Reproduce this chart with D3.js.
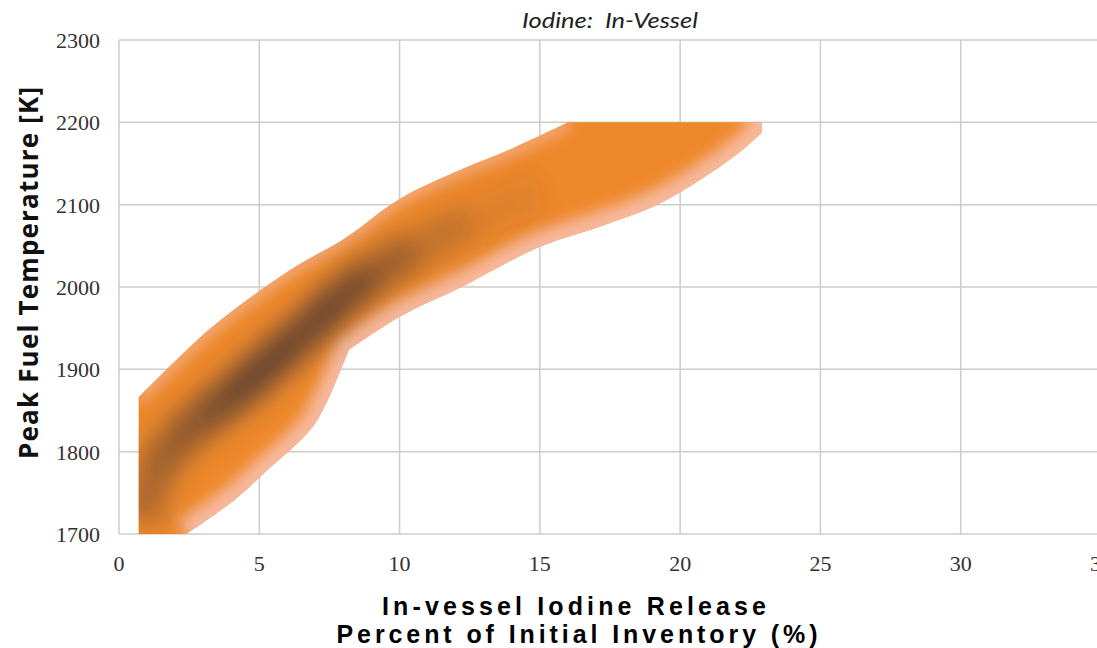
<!DOCTYPE html>
<html><head><meta charset="utf-8">
<script src="https://cdn.jsdelivr.net/npm/d3@7"></script>
<style>html,body{margin:0;padding:0;background:#fff;overflow:hidden}</style>
</head><body>
<svg id="c" width="1097" height="648"></svg>
<script>
// ---- data ----
const xTicks = [0, 5, 10, 15, 20, 25, 30, 35];
const yTicks = [1700, 1800, 1900, 2000, 2100, 2200, 2300];
// outer boundary of the density band
const upperX = [0.7, 3.2, 5.0, 6.5, 8.0, 10.0, 12.0, 14.0, 16.0];
const upperY = [1866, 1948, 1995, 2029, 2058, 2107, 2140, 2168, 2200];
const topRightX = 22.9;
const lowerX = [22.9, 21.9, 19.3, 17.1, 15.0, 12.2, 10.0, 8.2];
const lowerY = [2187, 2158, 2102, 2073, 2049, 2000, 1964, 1924];
const lowerX2 = [7.6, 6.9, 5.3, 4.1, 2.4];
const lowerY2 = [1875, 1830, 1778, 1741, 1700];
const leftX = 0.7;
// ridge of highest density
const ridgeX = [0.8, 1.2, 2.0, 3.0, 4.0, 5.0, 6.0, 7.0, 8.0, 9.0, 10.5, 12.5, 15.0];
const ridgeY = [1715, 1775, 1812, 1842, 1867, 1897, 1927, 1957, 1990, 2015, 2045, 2080, 2115];
const ridgeD = [0.35, 0.55, 0.6, 0.75, 0.9, 0.95, 0.9, 0.85, 0.95, 0.72, 0.42, 0.18, 0.05];

const title = "Iodine:  In-Vessel";
const yLabel = "Peak Fuel Temperature [K]";
const xLabel1 = "In-vessel Iodine Release";
const xLabel2 = "Percent of Initial Inventory (%)";

// ---- layout ----
const L = 119, R = 1101, T = 40, B = 534;
const svg = d3.select("#c");
const x = d3.scaleLinear().domain([0, 35]).range([L, R]);
const y = d3.scaleLinear().domain([1700, 2300]).range([B, T]);
const grid = "#cdcdcd";

const defs = svg.append("defs");
defs.append("clipPath").attr("id", "plotclip").append("rect")
  .attr("x", L).attr("y", T).attr("width", R - L).attr("height", B - T);
function blur(id, s) {
  defs.append("filter").attr("id", id).attr("filterUnits", "userSpaceOnUse")
    .attr("x", 0).attr("y", 0).attr("width", 1097).attr("height", 648)
    .append("feGaussianBlur").attr("stdDeviation", s);
}
blur("blurB", 13); blur("blurC", 7);

// grid
svg.append("g").selectAll("line").data(xTicks.filter(d => d > 0)).join("line")
  .attr("x1", d => x(d)).attr("x2", d => x(d)).attr("y1", T).attr("y2", B)
  .attr("stroke", grid).attr("stroke-width", 1.5);
svg.append("g").selectAll("line").data(yTicks).join("line")
  .attr("x1", L).attr("x2", R).attr("y1", d => y(d)).attr("y2", d => y(d))
  .attr("stroke", grid).attr("stroke-width", 1.5);
svg.append("line").attr("x1", L).attr("x2", L).attr("y1", T).attr("y2", B)
  .attr("stroke", grid).attr("stroke-width", 1.5);

// band path
const cr = d3.line().x(d => x(d[0])).y(d => y(d[1])).curve(d3.curveCatmullRom.alpha(0.5));
const upPts = upperX.map((v, i) => [v, upperY[i]]);
const loPts = lowerX.map((v, i) => [v, lowerY[i]]);
const lo2Pts = lowerX2.map((v, i) => [v, lowerY2[i]]);
const up = cr(upPts), lo = cr(loPts), lo2 = cr(lo2Pts);
const bandD = `M${x(leftX)},${y(1700)}L${up.slice(1)}L${x(topRightX)},${y(2200)}L${lo.slice(1)}L${lo2.slice(1)}Z`;
defs.append("clipPath").attr("id", "bandclip").append("path").attr("d", bandD);

const band = svg.append("g").attr("clip-path", "url(#plotclip)")
  .append("g").attr("clip-path", "url(#bandclip)");
band.append("rect").attr("x", L).attr("y", T).attr("width", R - L).attr("height", B - T).attr("fill", "#ee892b");
// lighter rims (salmon) along the band edges, wider on the lower/right side
const rims = band.append("g").attr("filter", "url(#blurC)").attr("fill", "none").attr("stroke", "#f6b89c");
rims.append("path").attr("d", `M${x(topRightX)},${y(2200)}L${lo.slice(1)}L${lo2.slice(1)}`)
  .attr("stroke-width", 30);
rims.append("path").attr("d", `M${x(topRightX)},${y(2200) - 20}L${x(topRightX)},${y(2180)}`)
  .attr("stroke-width", 30);
rims.append("path").attr("d", up).attr("stroke-width", 12).attr("stroke-opacity", 0.8);
const core = band.append("g").attr("filter", "url(#blurB)");
for (let i = 0; i < ridgeX.length - 1; i++) {
  core.append("line")
    .attr("x1", x(ridgeX[i])).attr("y1", y(ridgeY[i]))
    .attr("x2", x(ridgeX[i + 1])).attr("y2", y(ridgeY[i + 1]))
    .attr("stroke", "#5e4030").attr("stroke-width", 40)
    .attr("stroke-opacity", (ridgeD[i] + ridgeD[i + 1]) / 2);
}

// tick labels
const serif = "'Liberation Serif', 'DejaVu Serif', serif";
svg.append("g").selectAll("text").data(xTicks).join("text")
  .attr("x", d => x(d)).attr("y", 571).attr("text-anchor", "middle")
  .attr("font-family", serif).attr("font-size", 22).attr("fill", "#333")
  .text(d => d);
svg.append("g").selectAll("text").data(yTicks).join("text")
  .attr("x", 100).attr("y", d => y(d) + 8).attr("text-anchor", "end")
  .attr("font-family", serif).attr("font-size", 22).attr("fill", "#333")
  .text(d => d);

// title
svg.append("text").attr("x", 610).attr("y", 28).attr("text-anchor", "middle")
  .attr("font-family", "Lato, 'Open Sans', sans-serif").attr("font-style", "italic")
  .attr("font-weight", 400)
  .attr("font-size", 22).attr("fill", "#222").attr("xml:space", "preserve")
  .attr("textLength", 176).attr("lengthAdjust", "spacingAndGlyphs")
  .text(title);

// axis labels
svg.append("text").attr("x", 574).attr("y", 615).attr("text-anchor", "middle")
  .attr("font-family", "'Liberation Sans', Arial, sans-serif").attr("font-weight", "bold")
  .attr("font-size", 25).attr("fill", "#000")
  .attr("textLength", 384).attr("lengthAdjust", "spacing").text(xLabel1);
svg.append("text").attr("x", 577).attr("y", 643).attr("text-anchor", "middle")
  .attr("font-family", "'Liberation Sans', Arial, sans-serif").attr("font-weight", "bold")
  .attr("font-size", 25).attr("fill", "#000")
  .attr("textLength", 481).attr("lengthAdjust", "spacing").text(xLabel2);
svg.append("text").attr("transform", "translate(38,273) rotate(-90)").attr("text-anchor", "middle")
  .attr("font-family", "'Open Sans', 'Noto Sans', sans-serif").attr("font-weight", "bold")
  .attr("font-size", 26).attr("fill", "#111")
  .attr("textLength", 372).attr("lengthAdjust", "spacing").text(yLabel);
</script>
</body></html>
